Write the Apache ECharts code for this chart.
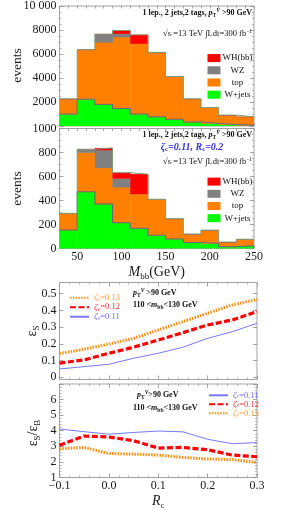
<!DOCTYPE html>
<html><head><meta charset="utf-8">
<script src="https://cdn.jsdelivr.net/npm/echarts@6/dist/echarts.min.js"></script>
<style>html,body{margin:0;padding:0;background:#fff}#c{width:290px;height:511px}</style>
</head><body><div id="c"></div>
<script>
// ---------- data ----------
const massBinLow  = [30, 50, 70, 90, 110, 130, 150, 170, 190, 210, 230];
const massBinHigh = [50, 70, 90, 110, 130, 150, 170, 190, 210, 230, 250];
const massTicks = [50, 100, 150, 200, 250];
const histNames = ['WH(bb)', 'WZ', 'top', 'W+jets'];

// upper histogram
const p1WJets = [990, 2230, 1800, 1460, 1000, 770, 560, 330, 220, 130, 60];
const p1Top   = [1270, 4130, 5190, 5960, 5880, 5370, 3570, 1930, 1320, 780, 710];
const p1WZ    = [0, 0, 670, 290, 0, 0, 0, 0, 0, 0, 0];
const p1WH    = [0, 0, 0, 250, 720, 0, 0, 0, 0, 0, 0];

// lower histogram
const p2WJets = [154, 473, 371, 215, 168, 110, 80, 50, 43, 15, 23];
const p2Top   = [139, 328, 302, 297, 288, 300, 168, 71, 110, 39, 54];
const p2WZ    = [0, 26, 149, 73, 0, 0, 0, 0, 0, 0, 0];
const p2WH    = [0, 0, 16, 47, 164, 0, 0, 0, 0, 0, 0];

// efficiency vs Rc
const rc = [-0.1, -0.05, 0, 0.05, 0.1, 0.15, 0.2, 0.25, 0.3];
const rcTicks = [-0.1, 0, 0.1, 0.2, 0.3];
const effTicks = [0, 0.1, 0.2, 0.3, 0.4, 0.5];
const effS013 = [0.142, 0.168, 0.199, 0.233, 0.283, 0.333, 0.383, 0.433, 0.465];
const effS012 = [0.085, 0.104, 0.144, 0.180, 0.223, 0.267, 0.313, 0.343, 0.393];
const effS011 = [0.050, 0.064, 0.078, 0.114, 0.144, 0.180, 0.233, 0.273, 0.323];
const ratio011 = [4.11, 3.94, 3.78, 3.89, 3.98, 3.93, 3.45, 3.17, 3.24];
const ratio012 = [3.07, 3.66, 3.60, 3.36, 2.89, 2.93, 2.78, 2.44, 2.33];
const ratio013 = [2.84, 2.93, 2.54, 2.50, 2.44, 2.29, 2.19, 2.15, 1.97];
const zetaNames = ['ζc=0.13', 'ζc=0.12', 'ζc=0.11'];

// ---------- styling ----------
const serif = "'Liberation Serif','DejaVu Serif',serif";
const tickCol = '#8e8e8e';
const histColors = {'WH(bb)': '#ff0000', 'WZ': '#808080', 'top': '#ff8000', 'W+jets': '#00ff00'};
const zetaColors = {'ζc=0.13': '#ff9419', 'ζc=0.12': '#ff0000', 'ζc=0.11': '#7878ff'};
const zetaText = {'ζc=0.13': 'o', 'ζc=0.12': 'r', 'ζc=0.11': 'b'};

function axis(gridIndex, position, cfg) {
  const a = {
    type: 'value', gridIndex: gridIndex, position: position,
    min: cfg.min, max: cfg.max,
    axisLine: {show: false, onZero: false},
    splitLine: {show: false},
    axisTick: {show: true, inside: true, length: cfg.tickLen || 4, lineStyle: {color: tickCol, width: 0.8}},
    minorTick: {show: !!cfg.minor, splitNumber: cfg.minor || 5, length: 2, lineStyle: {color: tickCol, width: 0.6}},
    axisLabel: {show: false}
  };
  if (cfg.interval !== undefined) a.interval = cfg.interval;
  if (cfg.tickValues) a.axisTick.customValues = cfg.tickValues;
  if (cfg.label) a.axisLabel = Object.assign({show: true, margin: 3, fontFamily: serif, fontSize: 12, color: '#1a1a1a',
    formatter: v => String(v)}, cfg.label);
  if (cfg.name) {
    a.name = cfg.name; a.nameLocation = 'middle'; a.nameGap = cfg.nameGap;
    a.nameMoveOverlap = false;
    a.nameTextStyle = Object.assign({fontFamily: serif, fontSize: 13, color: '#1a1a1a'}, cfg.nameStyle || {});
  }
  return a;
}

const mX = {min: 30, max: 250, interval: 10, tickLen: 2.5};
const rX = {min: -0.1, max: 0.3, interval: 0.1, minor: 5};
const nameRich = {
  i: {fontFamily: serif, fontSize: 14, fontStyle: 'italic', color: '#1a1a1a', lineHeight: 18},
  s: {fontFamily: serif, fontSize: 9, color: '#1a1a1a', verticalAlign: 'bottom', lineHeight: 18},
  n: {fontFamily: serif, fontSize: 14, color: '#1a1a1a', lineHeight: 18}
};

const xAxes = [
  axis(0, 'bottom', mX), axis(0, 'top', mX),
  axis(1, 'bottom', Object.assign({}, mX, {
    label: {customValues: massTicks, margin: 2},
    name: '{i|M}{s|bb}{n|(GeV)}', nameGap: 15, nameStyle: {rich: nameRich}
  })),
  axis(1, 'top', mX),
  axis(2, 'bottom', rX), axis(2, 'top', rX),
  axis(3, 'bottom', Object.assign({}, rX, {
    label: {customValues: rcTicks, margin: 2, formatter: v => v.toFixed(1).replace('-', '−')},
    name: '{i|R}{s|c}', nameGap: 14.5, nameStyle: {rich: nameRich}
  })),
  axis(3, 'top', rX)
];

const yAxes = [
  axis(0, 'left', {min: 0, max: 10000, interval: 2000, minor: 4,
    label: {showMinLabel: false, formatter: v => v === 10000 ? '10\u00a0000' : String(v)}}),
  axis(0, 'right', {min: 0, max: 10000, interval: 2000, minor: 4}),
  axis(1, 'left', {min: 0, max: 1000, interval: 200, minor: 4, label: {}}),
  axis(1, 'right', {min: 0, max: 1000, interval: 200, minor: 4}),
  axis(2, 'left', {min: -0.013, max: 0.567, tickValues: effTicks, label: {customValues: effTicks}}),
  axis(2, 'right', {min: -0.013, max: 0.567, tickValues: effTicks}),
  axis(3, 'left', {min: 1, max: 7, interval: 1, minor: 5, label: {showMaxLabel: false}}),
  axis(3, 'right', {min: 1, max: 7, interval: 1, minor: 5})
];

// ---------- histogram series ----------
function histItem(params, api) {
  const a = api.coord([api.value(0), api.value(3)]);
  const b = api.coord([api.value(1), api.value(2)]);
  const cs = params.coordSys;
  const r = echarts.graphic.clipRectByRect(
    {x: a[0], y: a[1], width: b[0] - a[0] + 0.4, height: b[1] - a[1] + 0.4},
    {x: cs.x, y: cs.y, width: cs.width, height: cs.height});
  return r && {type: 'rect', shape: r, style: {fill: api.visual('color')}};
}

function histPanel(axisIdx, wj, top, wz, wh) {
  const layers = [['W+jets', wj], ['top', top], ['WZ', wz], ['WH(bb)', wh]];
  const base = massBinLow.map(() => 0);
  const out = [];
  const cumWJ = [], cumAll = [];
  layers.forEach(([name, vals]) => {
    const data = massBinLow.map((lo, i) => {
      const d = [lo, massBinHigh[i], base[i], base[i] + vals[i]];
      base[i] += vals[i];
      return d;
    });
    if (name === 'W+jets') base.forEach(v => cumWJ.push(v));
    out.push({
      type: 'custom', name: name, xAxisIndex: axisIdx, yAxisIndex: axisIdx,
      renderItem: histItem, itemStyle: {color: histColors[name]},
      encode: {x: [0, 1], y: [2, 3]}, data: data, z: 2, silent: true
    });
  });
  base.forEach(v => cumAll.push(v));
  const step = (arr) => massBinLow.map((lo, i) => [lo, arr[i]]).concat([[massBinHigh[massBinHigh.length - 1], arr[arr.length - 1]]]);
  out.push({type: 'line', xAxisIndex: axisIdx, yAxisIndex: axisIdx, step: 'end', symbol: 'none',
    lineStyle: {color: '#55628e', width: 0.9}, data: step(cumWJ), z: 3, silent: true});
  out.push({type: 'line', xAxisIndex: axisIdx, yAxisIndex: axisIdx, step: 'end', symbol: 'none',
    lineStyle: {color: '#7f9f77', width: 1}, data: step(cumAll), z: 3, silent: true});
  return out;
}

// ---------- curve series ----------
const lineStyles = {
  'ζc=0.13': {color: '#ff9419', width: 3, type: [1.6, 1.2]},
  'ζc=0.12': {color: '#ff0000', width: 3.2, type: [6, 2.5]},
  'ζc=0.11': {color: '#7878ff', width: 1}
};
function curve(axisIdx, name, vals) {
  return {type: 'line', name: name, xAxisIndex: axisIdx, yAxisIndex: axisIdx,
    symbol: 'none', showSymbol: false, lineStyle: lineStyles[name], itemStyle: {color: zetaColors[name]},
    data: rc.map((x, i) => [x, vals[i]]), z: 3, silent: true};
}

const series = [].concat(
  histPanel(0, p1WJets, p1Top, p1WZ, p1WH),
  histPanel(2, p2WJets, p2Top, p2WZ, p2WH),
  [curve(4, 'ζc=0.13', effS013), curve(4, 'ζc=0.12', effS012), curve(4, 'ζc=0.11', effS011)],
  [curve(6, 'ζc=0.11', ratio011), curve(6, 'ζc=0.12', ratio012), curve(6, 'ζc=0.13', ratio013)]
);

// ---------- legends ----------
const histLegendText = {fontFamily: serif, fontSize: 9, color: '#111', lineHeight: 12.2,
  rich: {n: {width: 24, align: 'center', fontFamily: serif, fontSize: 9, color: '#111', lineHeight: 12.2}}};
function histLegend(top) {
  return {orient: 'vertical', left: 202.5, top: top, itemWidth: 13, itemHeight: 8, itemGap: 0,
    icon: 'rect', selectedMode: false, data: histNames, formatter: n => '{n|' + n + '}',
    textStyle: histLegendText};
}
function zetaRich(lh) {
  const r = {};
  [['o', '#ff9f3f'], ['r', '#ff3030'], ['b', '#6b6bff']].forEach(([k, c]) => {
    r['z' + k] = {fontFamily: serif, fontSize: 9, fontStyle: 'italic', color: c, lineHeight: lh};
    r['c' + k] = {fontFamily: serif, fontSize: 6, color: c, verticalAlign: 'bottom', lineHeight: lh};
    r['t' + k] = {fontFamily: serif, fontSize: 8.5, color: c, lineHeight: lh};
  });
  return r;
}
function zetaLegend(left, top, names, lh) {
  return {orient: 'vertical', left: left, top: top, itemWidth: 19, itemHeight: 6, itemGap: 0,
    selectedMode: false, data: names, itemStyle: {opacity: 0, borderWidth: 0},
    formatter: n => { const k = zetaText[n]; return '{z' + k + '|ζ}{c' + k + '|c}{t' + k + '|' + n.slice(2) + '}'; },
    textStyle: {fontFamily: serif, fontSize: 9, lineHeight: lh, rich: zetaRich(lh)}};
}

// ---------- annotations ----------
const T = {
  b:   {fontFamily: serif, fontSize: 8, fontWeight: 'bold', fill: '#111', lineHeight: 11},
  bi:  {fontFamily: serif, fontSize: 8, fontWeight: 'bold', fontStyle: 'italic', fill: '#111', lineHeight: 11},
  sub: {fontFamily: serif, fontSize: 5.5, fontWeight: 'bold', fill: '#111', verticalAlign: 'bottom', lineHeight: 11},
  sup: {fontFamily: serif, fontSize: 5.5, fontWeight: 'bold', fontStyle: 'italic', fill: '#111', verticalAlign: 'top', lineHeight: 11},
  r:   {fontFamily: serif, fontSize: 8.5, fill: '#111', lineHeight: 11},
  rs:  {fontFamily: serif, fontSize: 5.5, fill: '#111', verticalAlign: 'top', lineHeight: 11},
  zb:  {fontFamily: serif, fontSize: 10, fontWeight: 'bold', fontStyle: 'italic', fill: '#3030ff', lineHeight: 12},
  zs:  {fontFamily: serif, fontSize: 6.5, fontWeight: 'bold', fill: '#3030ff', verticalAlign: 'bottom', lineHeight: 12},
  an:  {fontFamily: serif, fontSize: 13.5, fill: '#1a1a1a', lineHeight: 18},
  e:   {fontFamily: serif, fontSize: 14, fill: '#1a1a1a', lineHeight: 18},
  es:  {fontFamily: serif, fontSize: 9, fill: '#1a1a1a', verticalAlign: 'bottom', lineHeight: 18}
};
function txt(x, y, text, align, rot) {
  return {type: 'text', x: x, y: y, rotation: rot || 0, silent: true, z: 10,
    style: {text: text, align: align, verticalAlign: 'middle', rich: T, fontFamily: serif, fontSize: 8, fill: '#111'}};
}
const ptText = '{bi|p}{sub|T}{sup|V}';
const selText = '{b|1 lep., 2 jets,2 tags, }' + ptText + '{b| >90 GeV}';
const lumiText = '{r|√s =13 TeV ∫Ldt=300 fb}{rs|−1}';
const mbbCut = '{b|110 <}{bi|m}{sub|bb}{b|<130 GeV}';
const up = Math.PI / 2;
const graphics = [
  txt(252, 13, selText, 'right'),
  txt(252, 34, lumiText, 'right'),
  txt(252, 135, selText, 'right'),
  txt(192, 147, '{zb|ζ}{zs|c}{zb|=0.11, R}{zs|c}{zb|=0.2}', 'center'),
  txt(252, 162, lumiText, 'right'),
  txt(133, 293, ptText + '{b| >90 GeV}', 'left'),
  txt(133, 305, mbbCut, 'left'),
  txt(137, 395, ptText + '{b|>90 GeV}', 'left'),
  txt(133, 408, mbbCut, 'left'),
  txt(17, 65.5, '{an|events}', 'center', up),
  txt(17, 188.5, '{an|events}', 'center', up),
  txt(32, 331, '{e|ε}{es|S}', 'center', up),
  txt(33, 433, '{e|ε}{es|S}{e|/ε}{es|B}', 'center', up)
];

const chart = echarts.init(document.getElementById('c'), null, {renderer: 'canvas'});
chart.setOption({
  animation: false,
  backgroundColor: '#fff',
  grid: [
    {left: 59.5, right: 36, top: 5, height: 121, show: true, borderColor: '#a3a3a3', borderWidth: 1},
    {left: 59.5, right: 36, top: 128.5, height: 120, show: true, borderColor: '#a3a3a3', borderWidth: 1},
    {left: 59.5, right: 33, top: 282.5, height: 97, show: true, borderColor: '#a3a3a3', borderWidth: 1},
    {left: 59.5, right: 33, top: 384, height: 97.7, show: true, borderColor: '#a3a3a3', borderWidth: 1}
  ],
  xAxis: xAxes,
  yAxis: yAxes,
  legend: [
    histLegend(47), histLegend(170.5),
    zetaLegend(64, 288, zetaNames, 9.5),
    zetaLegend(203, 385.8, zetaNames.slice().reverse(), 8.7)
  ],
  graphic: graphics,
  series: series
});
</script></body></html>
